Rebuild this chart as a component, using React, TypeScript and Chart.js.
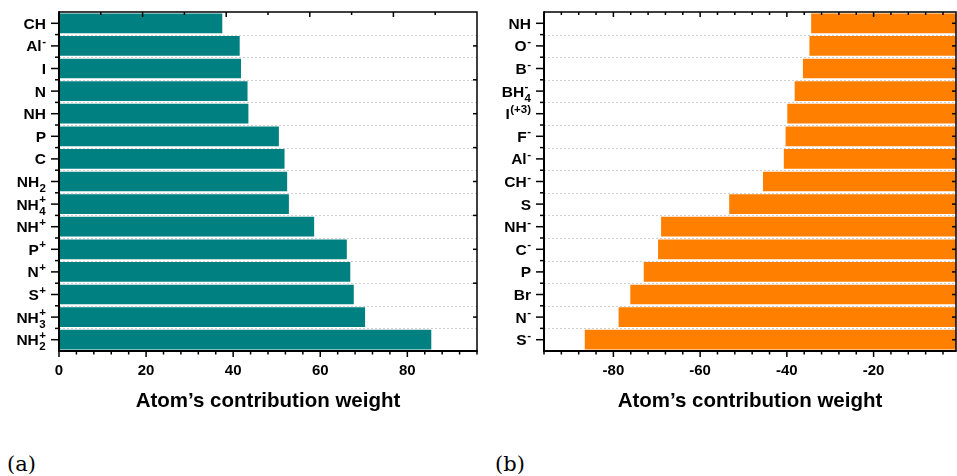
import React, { useEffect, useRef } from "react";
import { Chart, registerables } from "chart.js";

Chart.register(...registerables);

// ---------- data ----------
const leftCategories = ["CH", "Al^-", "I", "N", "NH", "P", "C", "NH_2", "NH_4^+", "NH^+", "P^+", "N^+", "S^+", "NH_3^+", "NH_2^+"];
const leftValues = [37.5, 41.5, 41.8, 43.3, 43.5, 50.5, 51.8, 52.4, 52.8, 58.6, 66.1, 66.9, 67.7, 70.3, 85.5];

const rightCategories = ["NH", "O^-", "B^-", "BH_4^-", "I^(+3)", "F^-", "Al^-", "CH^-", "S", "NH^-", "C^-", "P", "Br", "N^-", "S^-"];
const rightValues = [-34.4, -34.8, -36.3, -38.2, -39.9, -40.3, -40.7, -45.5, -53.3, -69.0, -69.7, -73.0, -76.1, -78.8, -86.6];

const leftTickValues = [0, 20, 40, 60, 80];
const rightTickValues = [-80, -60, -40, -20];
const leftRange = [0, 96];
const rightRange = [-96, -1];
const axisTitle = "Atom’s contribution weight";
const panelLabels = ["(a)", "(b)"];

// ---------- styling ----------
const SANS = '"Liberation Sans", Arial, Helvetica, sans-serif';
const TEAL = "#008080";
const ORANGE = "#FF8000";

function parseLabel(s: string) {
  const m = s.match(/^([^_^]+)(?:_([^^]+))?(?:\^(.+))?$/);
  if (!m) return { base: s, sub: "", sup: "" };
  return { base: m[1], sub: m[2] || "", sup: m[3] || "" };
}

type FrameOpts = {
  topMode: "divisions" | "values";
  rightMode: "divisions" | "categories";
  minorStep: number;
  majorStep: number;
};

function makeFramePlugin(cfg: FrameOpts) {
  return {
    id: "frameDecor",
    beforeDatasetsDraw(chart: any) {
      const { ctx, chartArea } = chart;
      const y = chart.scales.y;
      const n = y.getLabels().length;
      ctx.save();
      ctx.strokeStyle = "#cfcfcf";
      ctx.lineWidth = 1;
      ctx.setLineDash([2, 2]);
      for (let i = 0; i < n - 1; i++) {
        const py = Math.round((y.getPixelForValue(i) + y.getPixelForValue(i + 1)) / 2) + 0.5;
        ctx.beginPath();
        ctx.moveTo(chartArea.left, py);
        ctx.lineTo(chartArea.right, py);
        ctx.stroke();
      }
      ctx.restore();
    },
    afterDraw(chart: any) {
      const { ctx, chartArea } = chart;
      const { left, right, top, bottom } = chartArea;
      const x = chart.scales.x;
      const y = chart.scales.y;
      const labels: string[] = y.getLabels();
      const n = labels.length;
      ctx.save();
      ctx.strokeStyle = "#000";
      ctx.setLineDash([]);

      // frame
      ctx.lineWidth = 1.5;
      ctx.beginPath();
      ctx.moveTo(left, top);
      ctx.lineTo(right, top);
      ctx.lineTo(right, bottom);
      ctx.stroke();
      ctx.lineWidth = 2;
      ctx.beginPath();
      ctx.moveTo(left, top - 0.75);
      ctx.lineTo(left, bottom);
      ctx.lineTo(right + 0.75, bottom);
      ctx.stroke();

      // bottom ticks (outward)
      const min = x.min, max = x.max;
      const start = Math.ceil(min / cfg.minorStep) * cfg.minorStep;
      const xTickVals: number[] = [];
      for (let v = start; v <= max + 1e-9; v += cfg.minorStep) xTickVals.push(v);
      ctx.lineWidth = 1.5;
      for (const v of xTickVals) {
        const px = x.getPixelForValue(v);
        const major = Math.abs(v % cfg.majorStep) < 1e-9;
        ctx.beginPath();
        ctx.moveTo(px, bottom);
        ctx.lineTo(px, bottom + (major ? 6 : 3.5));
        ctx.stroke();
      }
      // top ticks (inward)
      if (cfg.topMode === "values") {
        for (const v of xTickVals) {
          const px = x.getPixelForValue(v);
          const major = Math.abs(v % cfg.majorStep) < 1e-9;
          ctx.beginPath();
          ctx.moveTo(px, top);
          ctx.lineTo(px, top + (major ? 5 : 3));
          ctx.stroke();
        }
      } else {
        for (let i = 1; i < 10; i++) {
          const px = left + ((right - left) * i) / 10;
          ctx.beginPath();
          ctx.moveTo(px, top);
          ctx.lineTo(px, top + (i % 2 === 0 ? 5 : 3));
          ctx.stroke();
        }
      }
      // left ticks (outward): major at categories, minor at boundaries
      for (let i = 0; i < n; i++) {
        const py = y.getPixelForValue(i);
        ctx.beginPath();
        ctx.moveTo(left, py);
        ctx.lineTo(left - 8, py);
        ctx.stroke();
        if (i < n - 1) {
          const pb = (py + y.getPixelForValue(i + 1)) / 2;
          ctx.beginPath();
          ctx.moveTo(left, pb);
          ctx.lineTo(left - 4, pb);
          ctx.stroke();
        }
      }
      // right ticks (inward)
      if (cfg.rightMode === "categories") {
        for (let i = 0; i < n; i++) {
          const py = y.getPixelForValue(i);
          ctx.beginPath();
          ctx.moveTo(right, py);
          ctx.lineTo(right - 4, py);
          ctx.stroke();
        }
      } else {
        for (let i = 1; i < 10; i++) {
          const py = top + ((bottom - top) * i) / 10;
          ctx.beginPath();
          ctx.moveTo(right, py);
          ctx.lineTo(right - 4, py);
          ctx.stroke();
        }
      }

      // category labels with sub/superscripts
      ctx.fillStyle = "#000";
      const baseFont = `bold 15.5px ${SANS}`;
      const smallFont = `bold 11.5px ${SANS}`;
      for (let i = 0; i < n; i++) {
        const py = y.getPixelForValue(i);
        const { base, sub, sup } = parseLabel(labels[i]);
        ctx.font = smallFont;
        const wSub = sub ? ctx.measureText(sub).width : 0;
        const wSup = sup ? ctx.measureText(sup).width : 0;
        const wSmall = Math.max(wSub, wSup);
        ctx.font = baseFont;
        const wBase = ctx.measureText(base).width;
        const xEnd = left - 13;
        const xStart = xEnd - wBase - (wSmall ? wSmall + 0.5 : 0);
        ctx.textAlign = "left";
        ctx.textBaseline = "alphabetic";
        ctx.fillText(base, xStart, py + 5.5);
        ctx.font = smallFont;
        if (sup) ctx.fillText(sup, xStart + wBase + 0.5, py - 1);
        if (sub) ctx.fillText(sub, xStart + wBase + 0.5, py + 10.5);
      }
      ctx.restore();
    },
  };
}

function buildChart(
  canvas: HTMLCanvasElement,
  categories: string[],
  values: number[],
  color: string,
  range: number[],
  tickValues: number[],
  yWidth: number,
  padRight: number,
  frame: FrameOpts
) {
  return new Chart(canvas, {
    type: "bar",
    data: {
      labels: categories,
      datasets: [
        {
          data: values,
          backgroundColor: color,
          borderWidth: 0,
          barPercentage: 0.87,
          categoryPercentage: 1,
        },
      ],
    },
    options: {
      indexAxis: "y",
      responsive: false,
      animation: false,
      devicePixelRatio: 1,
      layout: { padding: { top: 12, right: padRight, left: 0, bottom: 0 } },
      plugins: { legend: { display: false }, tooltip: { enabled: false } },
      scales: {
        x: {
          type: "linear",
          position: "bottom",
          min: range[0],
          max: range[1],
          afterBuildTicks: (s: any) => {
            s.ticks = tickValues.map((v) => ({ value: v }));
          },
          afterFit: (s: any) => {
            s.height = 69;
          },
          grid: { display: false, drawTicks: true, tickLength: 6 },
          border: { display: false },
          ticks: {
            color: "#000",
            padding: 5,
            autoSkip: false,
            maxRotation: 0,
            font: { family: SANS, size: 15, weight: "bold" },
            callback: (v: any) => String(v),
          },
          title: {
            display: true,
            text: axisTitle,
            color: "#000",
            font: { family: SANS, size: 20.5, weight: "bold" },
            padding: { top: 0, bottom: 6 },
          },
        },
        y: {
          type: "category",
          position: "left",
          afterFit: (s: any) => {
            s.width = yWidth;
          },
          grid: { display: false, drawTicks: false },
          border: { display: false },
          ticks: { display: false },
        },
      },
    } as any,
    plugins: [makeFramePlugin(frame)],
  });
}

export default function App() {
  const leftRef = useRef<HTMLCanvasElement>(null);
  const rightRef = useRef<HTMLCanvasElement>(null);

  useEffect(() => {
    const a = buildChart(leftRef.current!, leftCategories, leftValues, TEAL, leftRange, leftTickValues, 59, 3, {
      topMode: "divisions",
      rightMode: "divisions",
      minorStep: 4,
      majorStep: 20,
    });
    const b = buildChart(rightRef.current!, rightCategories, rightValues, ORANGE, rightRange, rightTickValues, 64, 1, {
      topMode: "values",
      rightMode: "categories",
      minorStep: 4,
      majorStep: 20,
    });
    return () => {
      a.destroy();
      b.destroy();
    };
  }, []);

  const panelStyle: React.CSSProperties = {
    position: "absolute",
    top: 449,
    fontFamily: '"DejaVu Serif", "Liberation Serif", serif',
    fontSize: 21,
    lineHeight: "30px",
    color: "#000",
  };

  return (
    <div style={{ position: "fixed", left: 0, top: 0, width: 957, height: 476, background: "#fff", overflow: "hidden" }}>
      <canvas ref={leftRef} width={480} height={420} style={{ position: "absolute", left: 0, top: 0, width: 480, height: 420 }} />
      <canvas ref={rightRef} width={477} height={420} style={{ position: "absolute", left: 480, top: 0, width: 477, height: 420 }} />
      <div style={{ ...panelStyle, left: 7 }}>{panelLabels[0]}</div>
      <div style={{ ...panelStyle, left: 495 }}>{panelLabels[1]}</div>
    </div>
  );
}
